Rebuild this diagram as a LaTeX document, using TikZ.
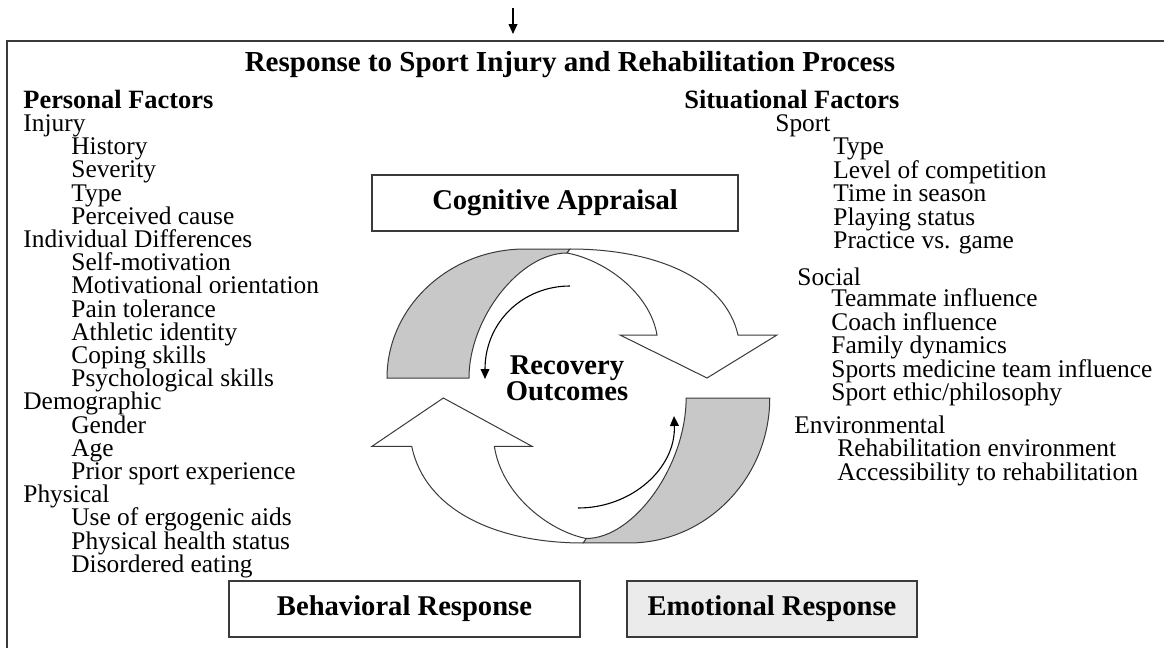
\documentclass[tikz,border=0pt]{standalone}
\usepackage{fontspec}
\setmainfont{Liberation Serif}
\usetikzlibrary{arrows.meta}

\definecolor{bandgray}{HTML}{C8C8C8}
\definecolor{boxgray}{HTML}{EBEBEB}
\definecolor{inkline}{HTML}{3A3A3A}

% One bent band arrow in its own frame (y up): shaded underside on the left,
% white upper face on the right ending in a broad arrowhead.
\newcommand\bandarrow{%
  \draw[bandline, fill=bandgray] (-188,0) -- (-106,0)
     .. controls (-106,60) and (-55,125) .. (-8,125)
     -- (-5,129) -- (-50,129)
     .. controls (-126,129) and (-188,71) .. (-188,0) -- cycle;
  \draw[bandline, fill=white] (-5,129)
     .. controls (80,129) and (150,100) .. (163,43)
     -- (202,43) -- (132,0) -- (45,43) -- (82,43)
     .. controls (75,85) and (30,118) .. (-8,125) -- cycle;
}

\tikzset{
  bandline/.style={draw=inkline, line width=0.5pt, line join=miter},
  frameline/.style={draw=inkline, line width=0.8pt},
  item/.style={anchor=base west, inner sep=0pt, text height=8.6pt, text depth=2.5pt,
               font=\fontsize{12.7}{14}\selectfont},
  head/.style={anchor=base west, inner sep=0pt, text height=9pt, text depth=0.5pt,
               font=\bfseries\fontsize{13.2}{15}\selectfont},
  stagebox/.style={draw=inkline, line width=0.8pt, minimum height=28pt,
                   font=\bfseries\fontsize{14.3}{16}\selectfont},
  thinarrow/.style={draw=black, line width=0.55pt,
                    -{Triangle[length=5pt, width=4.4pt]}},
}

\begin{document}
\begin{tikzpicture}[x=0.5pt, y=-0.5pt]
  \useasboundingbox (0,0) rectangle (1164,648);

  % incoming arrow and outer frame
  \coordinate (inflowtop) at (513,8);
  \coordinate (inflowend) at (513,34);
  \draw[thinarrow, line width=0.7pt] (inflowtop) -- (inflowend);
  \draw[frameline] (7,648) -- (7,41) -- (1164,41);

  % headings
  \node[anchor=base, inner sep=0pt, font=\bfseries\fontsize{14.5}{16}\selectfont]
       (title) at (570,71) {Response to Sport Injury and Rehabilitation Process};
  \node[head] (personal) at (23,108) {Personal Factors};
  \node[head] (situational) at (684,108) {Situational Factors};

  % personal factors list
  \foreach \lvl/\t [count=\i] in {
      0/Injury, 1/History, 1/Severity, 1/Type, 1/Perceived cause,
      0/Individual Differences, 1/Self-motivation, 1/Motivational orientation,
      1/Pain tolerance, 1/Athletic identity, 1/Coping skills,
      1/Psychological skills, 0/Demographic, 1/Gender, 1/Age,
      1/Prior sport experience, 0/Physical, 1/Use of ergogenic aids,
      1/Physical health status, 1/Disordered eating}
    \node[item] (pf\i) at ({23+48*\lvl}, {131.5+23.2*(\i-1)}) {\t};

  % situational factors list
  \foreach \px/\py/\t [count=\i] in {
      775/131/Sport, 833/154.5/Type, 833/178/Level of competition,
      833/201.5/Time in season, 833/225/Playing status,
      833/248.5/Practice vs. game,
      797/285/Social, 831/306.5/Teammate influence, 831/330/Coach influence,
      831/353.5/Family dynamics, 831/377/Sports medicine team influence,
      831/400.5/{Sport ethic/philosophy},
      794/433/Environmental, 837/456.5/Rehabilitation environment,
      837/480/Accessibility to rehabilitation}
    \node[item] (sf\i) at (\px,\py) {\t};

  % stage boxes
  \node[stagebox, minimum width=183pt] (cog) at (555,203) {Cognitive Appraisal};
  \node[stagebox, minimum width=175.5pt] (beh) at (404.5,609) {Behavioral Response};
  \node[stagebox, minimum width=145pt, fill=boxgray] (emo) at (772,609) {Emotional Response};

  % the two bent band arrows of the cycle
  \begin{scope}[shift={(575,378)}, yscale=-1]
    \bandarrow
  \end{scope}
  \begin{scope}[shift={(578,398)}, xscale=-1.02, yscale=1.124]
    \bandarrow
  \end{scope}

  % centre label
  \node[align=center, inner sep=0pt, font=\bfseries\fontsize{14.3}{13}\selectfont]
       (recovery) at (567,378) {Recovery\\Outcomes};

  % thin inner arrows
  \coordinate (loopAstart) at (570,286);
  \coordinate (loopAend) at (485,379);
  \draw[thinarrow] (loopAstart) .. controls (523,286) and (485,322) .. (loopAend);
  \coordinate (loopBstart) at (578,508);
  \coordinate (loopBend) at (674,416);
  \draw[thinarrow] (loopBstart) .. controls (632,508) and (676,468) .. (loopBend);
\end{tikzpicture}
\end{document}
